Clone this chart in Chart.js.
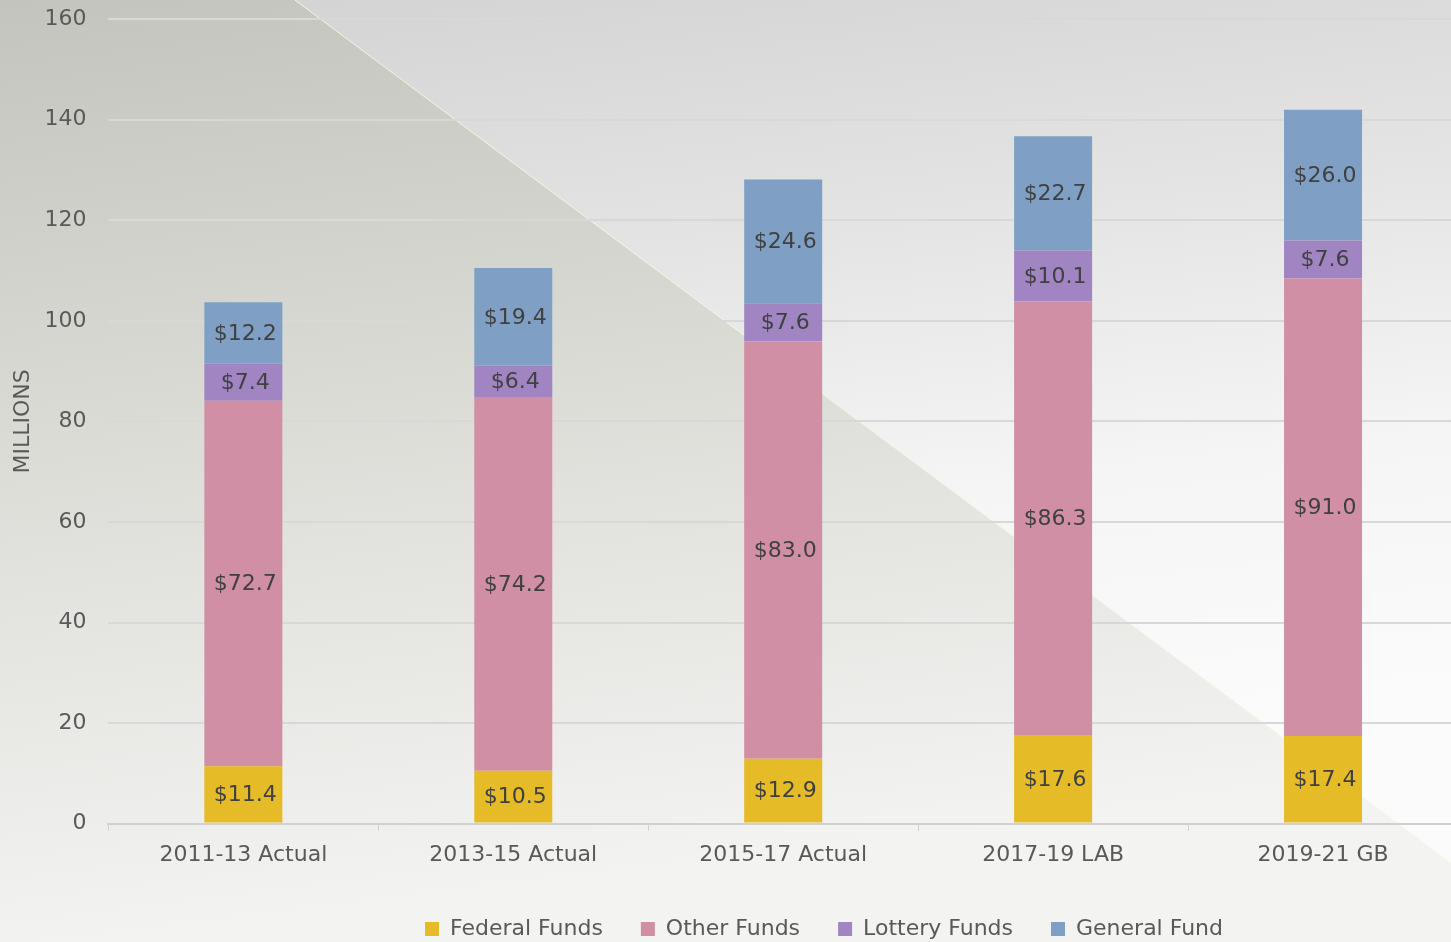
<!DOCTYPE html>
<html>
<head>
<meta charset="utf-8">
<script src="https://cdn.jsdelivr.net/npm/chart.js@4.4.1/dist/chart.umd.min.js"></script>
<style>
    html, body { margin: 0; padding: 0; overflow: hidden; background: #e8e8e6; }
    /* canvas is a bit taller and pulled up so the plot top lands at y=18 */
    #wrap { width: 1460px; height: 958px; position: relative; margin-top: -16px; }
</style>
</head>
<body>
<div id="wrap"><canvas id="budget"></canvas></div>
<script>
// chart data
const categories = ['2011-13 Actual', '2013-15 Actual', '2015-17 Actual', '2017-19 LAB', '2019-21 GB'];
const federalFunds = [11.4, 10.5, 12.9, 17.6, 17.4];
const otherFunds = [72.7, 74.2, 83.0, 86.3, 91.0];
const lotteryFunds = [7.4, 6.4, 7.6, 10.1, 7.6];
const generalFund = [12.2, 19.4, 24.6, 22.7, 26.0];

const FONT = 'DejaVu Sans';
const TEXT = '#595959';
const SHIFT = 16;

// background: grey gradient with lighter diagonal panel top right
const backdrop = {
    id: 'backdrop',
    beforeDraw(chart) {
        const ctx = chart.ctx;
        const w = chart.width, h = chart.height;
        ctx.save();
        ctx.translate(0, SHIFT);
        let g = ctx.createLinearGradient(0, 0, 120, 942);
        g.addColorStop(0, '#c4c4be');
        g.addColorStop(0.48, '#dcdcd7');
        g.addColorStop(1, '#f3f3f2');
        ctx.fillStyle = g;
        ctx.fillRect(0, -SHIFT, w, h);

        // diagonal from (295,0) to (1451,863)
        const slope = 863 / (1451 - 295);
        ctx.beginPath();
        ctx.moveTo(295 - SHIFT / slope, -SHIFT);
        ctx.lineTo(w, -SHIFT);
        ctx.lineTo(w, (w - 295) * slope);
        ctx.closePath();
        g = ctx.createLinearGradient(0, 0, 100, 850);
        g.addColorStop(0, '#d2d2d2');
        g.addColorStop(0.38, '#e4e4e4');
        g.addColorStop(0.7, '#f5f5f5');
        g.addColorStop(1, '#fbfbfb');
        ctx.fillStyle = g;
        ctx.fill();

        ctx.beginPath();
        ctx.moveTo(295, 0);
        ctx.lineTo(w, (w - 295) * slope);
        ctx.strokeStyle = 'rgba(248,248,228,0.9)';
        ctx.lineWidth = 1;
        ctx.stroke();
        ctx.restore();
    }
};

// "$x.x" labels in the middle of each segment
const segmentLabels = {
    id: 'segmentLabels',
    afterDatasetsDraw(chart) {
        const ctx = chart.ctx;
        ctx.save();
        ctx.font = '22px ' + FONT;
        ctx.fillStyle = '#404040';
        ctx.textAlign = 'center';
        ctx.textBaseline = 'middle';
        chart.data.datasets.forEach((ds, i) => {
            const meta = chart.getDatasetMeta(i);
            meta.data.forEach((bar, j) => {
                const y = (bar.y + bar.base) / 2;
                ctx.fillText('$' + ds.data[j].toFixed(1), bar.x + 2, y + 1);
            });
        });
        ctx.restore();
    }
};

// legend sits a bit right of centre and lower than chart.js would put it
const legendNudge = {
    id: 'legendNudge',
    beforeInit(chart) {
        const fit = chart.legend.fit;
        chart.legend.fit = function () {
            fit.call(this);
            this.height = 62;
        };
    },
    afterLayout(chart) {
        chart.legend.left += 95;
        chart.legend.right += 95;
    }
};

const config = {
    type: 'bar',
    data: {
        labels: categories,
        datasets: [
            { label: 'Federal Funds', data: federalFunds, backgroundColor: '#e5bb27' },
            { label: 'Other Funds', data: otherFunds, backgroundColor: '#d18fa6' },
            { label: 'Lottery Funds', data: lotteryFunds, backgroundColor: '#a085c2' },
            { label: 'General Fund', data: generalFund, backgroundColor: '#7fa0c4' }
        ]
    },
    options: {
        responsive: true,
        maintainAspectRatio: false,
        animation: false,
        datasets: {
            bar: {
                categoryPercentage: 1,
                barPercentage: 0.289,
                borderWidth: 0
            }
        },
        layout: {
            padding: { left: 0, right: 2, top: 0, bottom: 0 }
        },
        scales: {
            x: {
                stacked: true,
                grid: { drawOnChartArea: false, drawTicks: true, tickLength: 7, color: '#d0d0d0' },
                border: { color: '#d0d0d0', width: 2 },
                ticks: { color: TEXT, font: { family: FONT, size: 22 }, padding: 11.5 }
            },
            y: {
                stacked: true,
                min: 0,
                max: 160,
                ticks: { stepSize: 20, color: TEXT, font: { family: FONT, size: 22 }, padding: 22 },
                grid: { drawTicks: false, color: '#d8d8d8', lineWidth: 2 },
                border: { display: false },
                title: {
                    display: true,
                    text: 'MILLIONS',
                    color: TEXT,
                    font: { family: FONT, size: 22 },
                    padding: { top: 10, bottom: -14 }
                }
            }
        },
        plugins: {
            legend: {
                position: 'bottom',
                labels: {
                    color: TEXT,
                    font: { family: FONT, size: 22 },
                    boxWidth: 14,
                    boxHeight: 14,
                    padding: 38
                }
            },
            tooltip: { enabled: false }
        }
    },
    plugins: [backdrop, segmentLabels, legendNudge]
};

var ctx = document.getElementById('budget');
var chart = new Chart(ctx, config);
</script>
</body>
</html>
